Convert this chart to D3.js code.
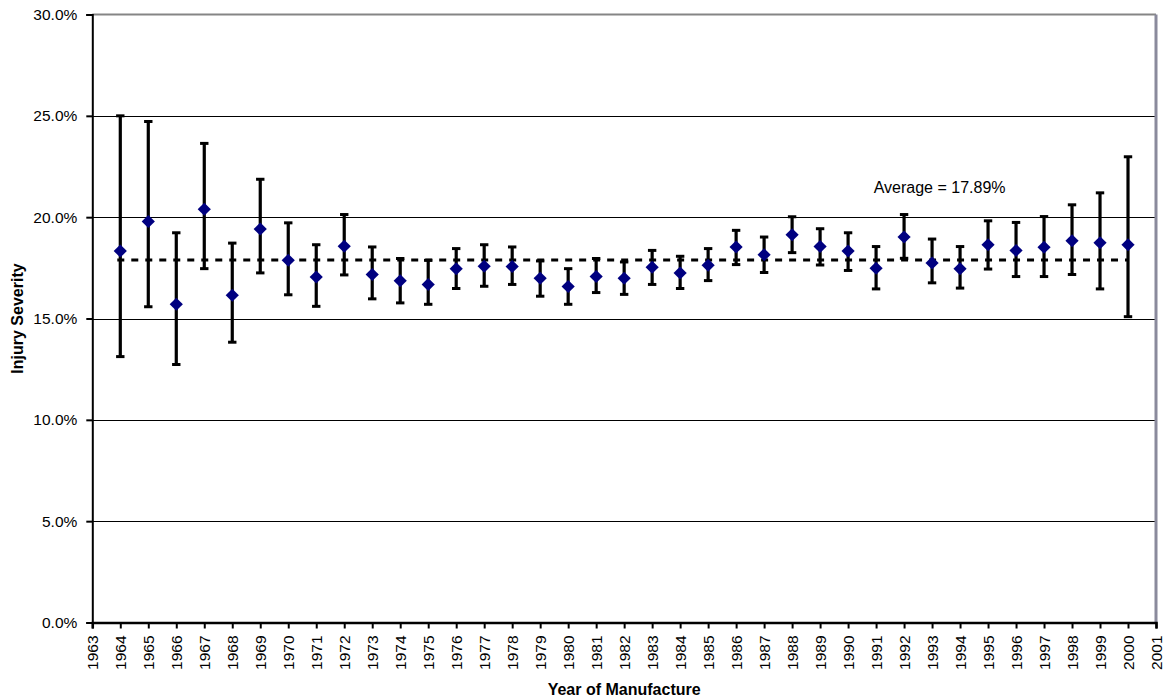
<!DOCTYPE html>
<html>
<head>
<meta charset="utf-8">
<script src="https://cdn.jsdelivr.net/npm/d3@7"></script>
<style>
  html, body { margin: 0; padding: 0; background: #fff; }
  svg { display: block; }
  text { font-family: "Liberation Sans", Arial, sans-serif; }
</style>
</head>
<body>
<svg id="chart" width="1170" height="699"></svg>
<script>
// ---- data ----
const years = [1964,1965,1966,1967,1968,1969,1970,1971,1972,1973,1974,1975,1976,1977,1978,1979,1980,1981,1982,1983,1984,1985,1986,1987,1988,1989,1990,1991,1992,1993,1994,1995,1996,1997,1998,1999,2000];
const severity = [18.33,19.79,15.70,20.39,16.15,19.41,17.87,17.05,18.56,17.17,16.86,16.68,17.46,17.58,17.56,16.99,16.58,17.07,16.99,17.53,17.25,17.63,18.53,18.15,19.13,18.55,18.33,17.48,19.02,17.74,17.46,18.64,18.36,18.51,18.84,18.74,18.64];
const upper = [25.00,24.72,19.23,23.64,18.72,21.87,19.72,18.64,20.13,18.53,17.96,17.87,18.45,18.64,18.53,17.84,17.46,17.96,17.79,18.36,18.07,18.45,19.35,19.02,20.02,19.43,19.23,18.55,20.13,18.92,18.55,19.82,19.74,20.03,20.61,21.20,22.98];
const lower = [13.12,15.58,12.73,17.46,13.83,17.25,16.17,15.60,17.15,15.97,15.77,15.70,16.48,16.59,16.68,16.10,15.70,16.28,16.19,16.68,16.48,16.87,17.66,17.27,18.25,17.64,17.37,16.46,17.97,16.76,16.50,17.44,17.07,17.07,17.17,16.46,15.09];
const average = 17.89;
const xTicks = d3.range(1963, 2002);
const yTicks = [0, 5, 10, 15, 20, 25, 30];
const averageLabel = "Average = 17.89%";
const xTitle = "Year of Manufacture";
const yTitle = "Injury Severity";

// ---- layout ----
const W = 1170, H = 699;
const m = { left: 92.3, right: 14, top: 14.5, bottom: 76.5 };
const svg = d3.select("#chart");
const x = d3.scaleLinear().domain([1963, 2001]).range([m.left, W - m.right]);
const y = d3.scaleLinear().domain([0, 30]).range([H - m.bottom, m.top]);

const data = years.map((yr, i) => ({ yr, v: severity[i], hi: upper[i], lo: lower[i] }));

// gridlines
svg.append("g").selectAll("line").data(yTicks.filter(t => t > 0 && t < 30)).join("line")
  .attr("x1", x(1963)).attr("x2", x(2001))
  .attr("y1", d => Math.round(y(d)) + 0.5).attr("y2", d => Math.round(y(d)) + 0.5)
  .attr("stroke", "#000").attr("stroke-width", 1.2);

// plot frame (top & right in gray)
svg.append("line").attr("x1", x(1963)).attr("x2", x(2001))
  .attr("y1", y(30)).attr("y2", y(30)).attr("stroke", "#858585").attr("stroke-width", 2);
svg.append("line").attr("x1", x(2001)).attr("x2", x(2001))
  .attr("y1", y(30)).attr("y2", y(0)).attr("stroke", "#8a8a9c").attr("stroke-width", 3);

// average dashed line
const step = x(1) - x(0);
svg.append("line")
  .attr("x1", x(1964) - 3).attr("x2", x(2000))
  .attr("y1", y(average)).attr("y2", y(average))
  .attr("stroke", "#000").attr("stroke-width", 3)
  .attr("stroke-dasharray", `${step/4},${step/4}`);

// axes
const yAxis = d3.axisLeft(y).tickValues(yTicks).tickSize(6).tickFormat(d => d.toFixed(1) + "%");
const gy = svg.append("g").attr("transform", `translate(${m.left},0)`).call(yAxis);
gy.select(".domain").attr("stroke", "#000").attr("stroke-width", 2);
gy.selectAll(".tick line").attr("stroke", "#000").attr("stroke-width", 2);
gy.selectAll(".tick text").attr("x", -15).attr("font-size", 15.5).attr("fill", "#000")
  .style("font-family", '"Liberation Sans", Arial, sans-serif');

const xAxis = d3.axisBottom(x).tickValues(xTicks).tickSize(6).tickFormat(d => String(d));
const gx = svg.append("g").attr("transform", `translate(0,${H - m.bottom})`).call(xAxis);
gx.select(".domain").attr("stroke", "#000").attr("stroke-width", 2.5);
gx.selectAll(".tick line").attr("stroke", "#000").attr("stroke-width", 2);
gx.selectAll(".tick text")
  .attr("font-size", 15.5).attr("fill", "#000")
  .style("font-family", '"Liberation Sans", Arial, sans-serif')
  .attr("text-anchor", "end")
  .attr("transform", "rotate(-90)")
  .attr("x", -13).attr("y", 0).attr("dy", "0.36em");

// error bars
const eb = svg.append("g");
eb.selectAll("line.bar").data(data).join("line").attr("class", "bar")
  .attr("x1", d => x(d.yr)).attr("x2", d => x(d.yr))
  .attr("y1", d => y(d.hi)).attr("y2", d => y(d.lo))
  .attr("stroke", "#000").attr("stroke-width", 3.2);
eb.selectAll("line.capt").data(data).join("line").attr("class", "capt")
  .attr("x1", d => x(d.yr) - 4.2).attr("x2", d => x(d.yr) + 4.2)
  .attr("y1", d => y(d.hi)).attr("y2", d => y(d.hi))
  .attr("stroke", "#000").attr("stroke-width", 3);
eb.selectAll("line.capb").data(data).join("line").attr("class", "capb")
  .attr("x1", d => x(d.yr) - 4.2).attr("x2", d => x(d.yr) + 4.2)
  .attr("y1", d => y(d.lo)).attr("y2", d => y(d.lo))
  .attr("stroke", "#000").attr("stroke-width", 3);

// diamond markers
svg.append("g").selectAll("path").data(data).join("path")
  .attr("transform", d => `translate(${x(d.yr)},${y(d.v)})`)
  .attr("d", "M0,-6.5L6.6,0L0,6.5L-6.6,0Z")
  .attr("fill", "#000080");

// average label
svg.append("text")
  .attr("x", x(1993.27)).attr("y", y(20) - 24)
  .attr("text-anchor", "middle").attr("font-size", 16).attr("fill", "#000")
  .text(averageLabel);

// axis titles
svg.append("text")
  .attr("x", (x(1963) + x(2001)) / 2).attr("y", 695)
  .attr("text-anchor", "middle").attr("font-size", 16).attr("font-weight", "bold")
  .text(xTitle);
svg.append("text")
  .attr("transform", `translate(23,${(y(0) + y(30)) / 2}) rotate(-90)`)
  .attr("text-anchor", "middle").attr("font-size", 16).attr("font-weight", "bold")
  .text(yTitle);
</script>
</body>
</html>
